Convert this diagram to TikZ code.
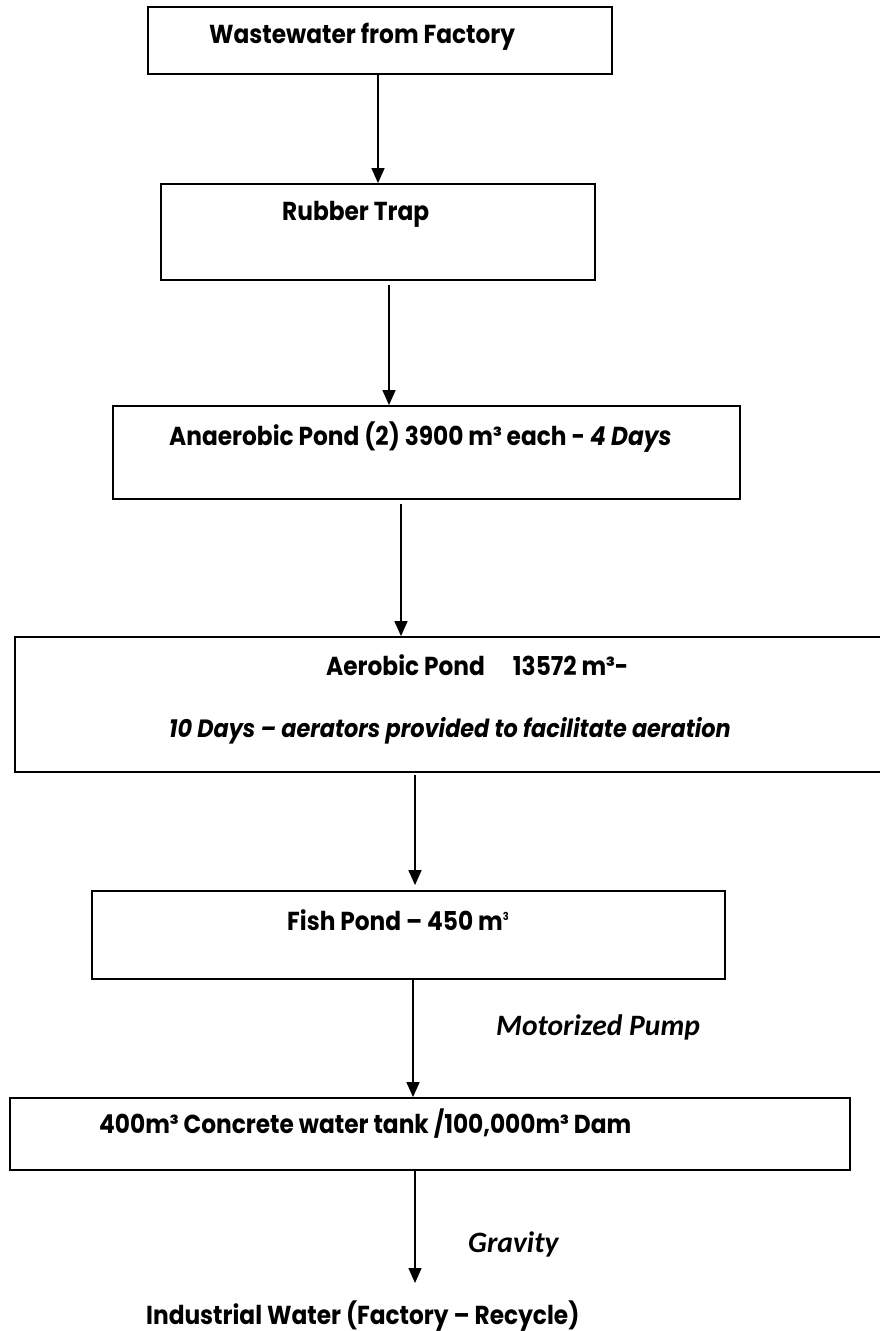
\documentclass[tikz,border=0pt]{standalone}
\usepackage{fontspec}
\setmainfont{Poppins}[FakeStretch=0.895]
\newfontfamily\calib{Carlito}
\usetikzlibrary{arrows.meta}
\tikzset{
  box/.style={draw, line width=1.8pt, inner sep=0pt, anchor=center},
  txt/.style={inner sep=0pt, anchor=base west, font=\fontsize{26}{28}\selectfont\bfseries},
  itxt/.style={txt, font=\fontsize{25}{27}\selectfont\bfseries\itshape},
  lbl/.style={inner sep=0pt, anchor=base west, font=\fontsize{29.6}{31}\selectfont\calib\bfseries\itshape},
  arr/.style={line width=1.4pt, -{Triangle[length=15pt,width=13pt]}}
}
\begin{document}
\begin{tikzpicture}[x=1pt,y=-1pt]
\useasboundingbox (0,0) rectangle (880,1331);
\begin{scope}
\clip (0,0) rectangle (880,1331);
% boxes
\node[box, minimum width=464pt, minimum height=67pt] (b1) at (380,40.5) {};
\node[box, minimum width=434pt, minimum height=96pt] (b2) at (378,232) {};
\node[box, minimum width=627pt, minimum height=93pt] (b3) at (426.5,452.5) {};
\node[box, minimum width=884pt, minimum height=135pt] (b4) at (457,704.5) {};
\node[box, minimum width=633pt, minimum height=88pt] (b5) at (408.5,935) {};
\node[box, minimum width=840pt, minimum height=72pt] (b6) at (430,1134) {};
\end{scope}
% texts
\node[txt] (t1) at (209,43) {Wastewater from Factory};
\node[txt] (t2) at (282,220) {Rubber Trap};
\node[txt] (t3) at (169,445) {Anaerobic Pond (2) 3900 m³ each - \textit{4 Days}};
\node[txt] (t4) at (326,675) {Aerobic Pond\hspace{28pt}13572 m³-};
\node[itxt] (t5) at (169,737) {10 Days – aerators provided to facilitate aeration};
\node[txt] (t6) at (287,930) {Fish Pond – 450 m\raisebox{10pt}{\fontsize{11}{11}\selectfont 3}};
\node[lbl] (l1) at (496,1035) {Motorized Pump};
\node[txt] (t7) at (99,1133) {400m³ Concrete water tank /100,000m³ Dam};
\node[lbl] (l2) at (468,1252) {Gravity};
\node[txt] (t8) at (146,1324) {Industrial Water (Factory – Recycle)};
% connectors
\coordinate (e6) at (415,1283);
\draw[arr] (b1.south -| 378,0) -- (b2.north -| 378,0);
\draw[arr, shorten <=4pt] (b2.south -| 389,0) -- (b3.north -| 389,0);
\draw[arr, shorten <=4pt] (b3.south -| 401,0) -- (b4.north -| 401,0);
\draw[arr, shorten <=2pt] (b4.south -| 415,0) -- ([yshift=5pt]b5.north -| 415,0);
\draw[arr] (b5.south -| 413,0) -- (b6.north -| 413,0);
\draw[arr] (b6.south -| 415,0) -- (e6);
\end{tikzpicture}
\end{document}
